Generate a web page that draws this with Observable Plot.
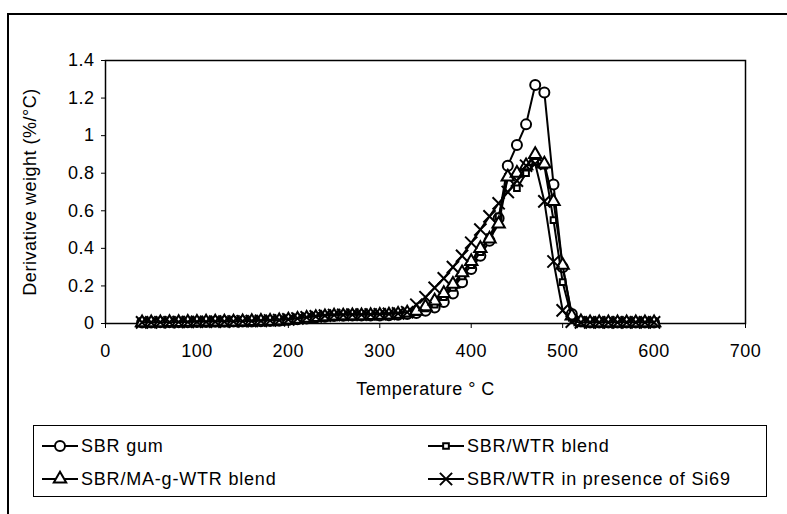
<!DOCTYPE html>
<html><head><meta charset="utf-8">
<script src="https://cdn.jsdelivr.net/npm/d3@7"></script>
<script src="https://cdn.jsdelivr.net/npm/@observablehq/plot@0.6"></script>
<style>
body{margin:0;background:#fff;font-family:"Liberation Sans",Arial,sans-serif;color:#000;}
#wrap{position:relative;width:787px;height:514px;overflow:hidden;background:#fff;}
#frame{position:absolute;left:7px;top:13px;width:790px;height:510px;border-top:2px solid #000;border-left:2px solid #000;}
#chart{position:absolute;left:0;top:0;}
#chart svg text{letter-spacing:0.5px;}
#legend{position:absolute;left:33px;top:425px;width:734px;height:72px;border:1.5px solid #000;box-sizing:border-box;font-size:18px;letter-spacing:0.8px;}
.item{position:absolute;display:flex;align-items:center;height:22px;}
.item svg{margin-right:3px;}
</style>
</head><body>
<div id="wrap"><div id="frame"></div><div id="chart"></div><div id="legend"></div></div>
<script>
const temperatures = [40,50,60,70,80,90,100,110,120,130,140,150,160,170,180,190,200,210,220,230,240,250,260,270,280,290,300,310,320,330,340,350,360,370,380,390,400,410,420,430,440,450,460,470,480,490,500,510,520,530,540,550,560,570,580,590,600];
const sbrGum = [0.005,0.005,0.006,0.006,0.007,0.007,0.008,0.008,0.009,0.009,0.01,0.01,0.011,0.012,0.013,0.015,0.018,0.022,0.027,0.032,0.036,0.04,0.041,0.042,0.042,0.042,0.043,0.044,0.046,0.05,0.056,0.068,0.085,0.115,0.16,0.22,0.29,0.36,0.44,0.56,0.84,0.95,1.06,1.27,1.23,0.74,0.3,0.05,0.01,0.005,0.005,0.005,0.005,0.005,0.005,0.005,0.005];
const sbrWtr = [0.004,0.004,0.005,0.005,0.006,0.006,0.007,0.007,0.008,0.008,0.009,0.009,0.01,0.011,0.012,0.014,0.017,0.021,0.026,0.031,0.035,0.038,0.04,0.041,0.041,0.041,0.042,0.043,0.046,0.052,0.06,0.08,0.1,0.14,0.19,0.25,0.31,0.38,0.46,0.57,0.78,0.72,0.8,0.86,0.84,0.55,0.22,0.03,0.01,0.004,0.004,0.004,0.004,0.004,0.004,0.004,0.004];
const sbrMaWtr = [0.005,0.005,0.005,0.006,0.006,0.007,0.007,0.008,0.008,0.009,0.009,0.01,0.011,0.012,0.013,0.015,0.019,0.023,0.028,0.033,0.037,0.04,0.041,0.042,0.042,0.043,0.044,0.046,0.05,0.056,0.065,0.09,0.12,0.16,0.21,0.27,0.33,0.4,0.45,0.53,0.78,0.8,0.84,0.9,0.85,0.65,0.31,0.04,0.01,0.005,0.005,0.005,0.005,0.005,0.005,0.005,0.005];
const sbrSi69 = [0.006,0.006,0.007,0.007,0.008,0.008,0.009,0.009,0.01,0.01,0.011,0.012,0.013,0.014,0.016,0.018,0.022,0.027,0.033,0.038,0.042,0.045,0.046,0.047,0.047,0.048,0.049,0.051,0.054,0.06,0.1,0.14,0.19,0.24,0.3,0.36,0.43,0.5,0.57,0.64,0.7,0.76,0.84,0.85,0.65,0.33,0.07,0.01,0.006,0.006,0.006,0.006,0.006,0.006,0.006,0.006,0.006];
const seriesNames = ["SBR gum","SBR/WTR blend","SBR/MA-g-WTR blend","SBR/WTR in presence of Si69"];
const seriesValues = [sbrGum, sbrWtr, sbrMaWtr, sbrSi69];
const symbols = ["circle","square","triangle","times"];
const sizes = [5, 3.2, 4.6, 5.6];
const xTicks = [0,100,200,300,400,500,600,700];
const yTicks = [0,0.2,0.4,0.6,0.8,1,1.2,1.4];
const xTitle = "Temperature ° C";
const yTitle = "Derivative weight (%/°C)";

const marks = [Plot.frame({stroke:"#000", strokeWidth:1.5})];
seriesValues.forEach((vals, i) => {
  const rows = temperatures.map((t, j) => ({t, v: vals[j]}));
  marks.push(Plot.line(rows, {x:"t", y:"v", stroke:"#000", strokeWidth:2}));
  const filled = symbols[i] !== "times";
  marks.push(Plot.dot(rows, {x:"t", y:"v", symbol: () => symbols[i], r: sizes[i],
    fill: filled ? "#fff" : "none", stroke:"#000", strokeWidth: 2}));
});
marks.push(Plot.axisX({ticks: xTicks, tickSize: 5, tickPadding: 16, tickFormat: d => String(d),
  label: null, fontSize: 18}));
marks.push(Plot.axisY({ticks: yTicks, tickSize: 4, tickPadding: 7, tickFormat: d => String(+d.toFixed(1)),
  label: null, fontSize: 18}));
marks.push(Plot.text([xTitle], {text: d => d, frameAnchor: "bottom", dy: 71, fontSize: 18, fill: "#000"}));
marks.push(Plot.text([yTitle], {text: d => d, frameAnchor: "left", textAnchor: "middle", dx: -75, rotate: -90, fontSize: 18, fill: "#000"}));

const chart = Plot.plot({
  width: 787, height: 410,
  marginLeft: 105, marginRight: 42, marginTop: 60, marginBottom: 87,
  style: {fontFamily: "Liberation Sans, Arial, sans-serif", fontSize: "18px", color: "#000", background: "transparent"},
  x: {domain: [0, 700]},
  y: {domain: [0, 1.4]},
  symbol: {type: "identity"},
  marks
});
document.getElementById("chart").append(chart);

// legend
const legend = document.getElementById("legend");
const pos = [[8,9],[394,9],[8,42],[394,42]];
seriesNames.forEach((name, i) => {
  const div = document.createElement("div");
  div.className = "item";
  div.style.left = pos[i][0] + "px";
  div.style.top = pos[i][1] + "px";
  const svg = d3.create("svg").attr("width", 36).attr("height", 22);
  svg.append("line").attr("x1",0).attr("x2",36).attr("y1",11).attr("y2",11).attr("stroke","#000").attr("stroke-width",2);
  const sym = {circle:d3.symbolCircle, square:d3.symbolSquare, triangle:d3.symbolTriangle, times:d3.symbolTimes}[symbols[i]];
  svg.append("path").attr("transform","translate(18,11)")
    .attr("d", d3.symbol(sym, Math.PI*sizes[i]*sizes[i])())
    .attr("fill", symbols[i]==="times" ? "none" : "#fff").attr("stroke","#000").attr("stroke-width",2);
  div.append(svg.node());
  const span = document.createElement("span");
  span.textContent = name;
  div.append(span);
  legend.append(div);
});
</script>
</body></html>
